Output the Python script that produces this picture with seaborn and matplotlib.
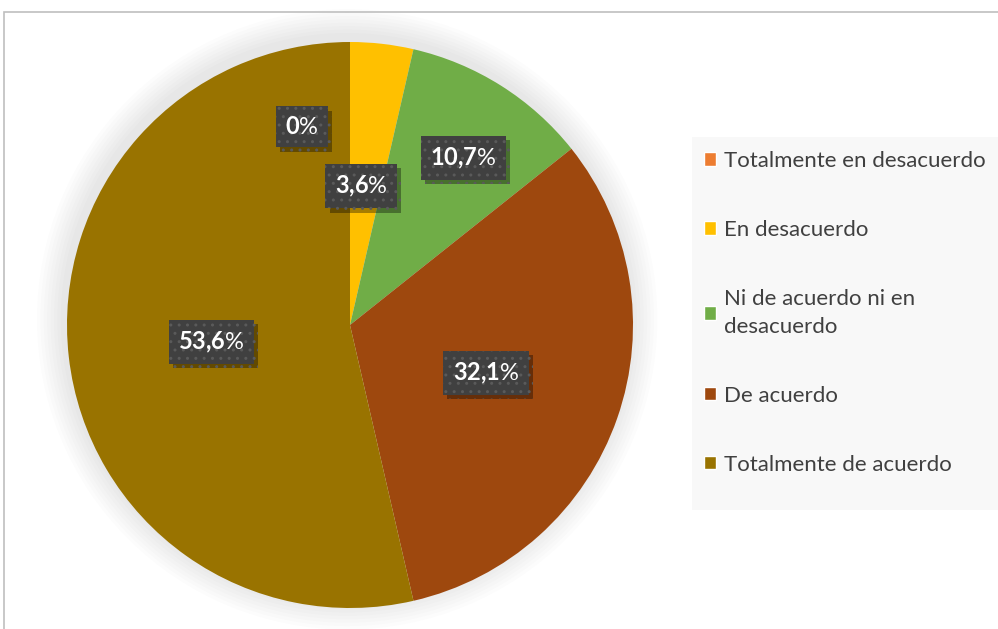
import numpy as np
import matplotlib
matplotlib.use("Agg")
import matplotlib.pyplot as plt
import matplotlib.patheffects as pe
from matplotlib.patches import Rectangle, Circle
import seaborn as sns

categories = ["Totalmente en desacuerdo", "En desacuerdo",
              "Ni de acuerdo ni en\ndesacuerdo", "De acuerdo",
              "Totalmente de acuerdo"]
values = [0.0, 3.6, 10.7, 32.1, 53.6]
colors = ["#ED7D31", "#FFC000", "#70AD47", "#9E480E", "#997300"]

# label placement inside the pie (radius = 1)
label_pos = [(-0.17, 0.70), (0.04, 0.49), (0.40, 0.59), (0.48, -0.17), (-0.49, -0.06)]

sns.set_style("white")
plt.rcParams["font.family"] = ["Lato", "DejaVu Sans"]
plt.rcParams["mathtext.fontset"] = "custom"
plt.rcParams["mathtext.rm"] = "Lato"
plt.rcParams["mathtext.bf"] = "Lato:bold"

fig = plt.figure(figsize=(9.98, 6.29), dpi=100)
W, H = 998, 629

# chart border
fig.patches.append(Rectangle((4 / W, -0.01), 1.0, 1 - 12 / H + 0.01,
                             transform=fig.transFigure, fill=False,
                             edgecolor="#BFBFBF", linewidth=1.2))
# legend background
fig.patches.append(Rectangle((692 / W, 1 - 510 / H), 1.0, (510 - 137) / H,
                             transform=fig.transFigure, facecolor="#F8F8F8",
                             edgecolor="none"))

cx, cy, r = 350, 304, 283
ax = fig.add_axes([(cx - r) / W, (cy - r) / H, 2 * r / W, 2 * r / H])

# soft shadow around the pie
for k in range(8):
    ax.add_patch(Circle((-0.01, 0.02), 1.0 + 0.012 * (k + 1), facecolor="#808080",
                        alpha=0.025, edgecolor="none", clip_on=False, zorder=0))

wedges, _ = ax.pie(values, colors=colors, startangle=90, counterclock=False,
                   radius=1, wedgeprops=dict(linewidth=0))
ax.set_xlim(-1, 1)
ax.set_ylim(-1, 1)
ax.set_aspect("equal")
ax.axis("off")

for v, (x, y) in zip(values, label_pos):
    num = f"{v:.1f}".replace(".", "{,}") if v != 0 else "0"
    t = ax.text(x, y, r"$\mathbf{" + num + "}$%", ha="center", va="center",
                color="white", fontsize=17,
                bbox=dict(boxstyle="square,pad=0.4", facecolor="#404040",
                          edgecolor="#5A5A5A", hatch="..", linewidth=0))
    t.get_bbox_patch().set_path_effects([
        pe.SimplePatchShadow(offset=(3, -3), shadow_rgbFace="black", alpha=0.35),
        pe.Normal()])

handles = [Rectangle((0, 0), 1, 1, facecolor=c) for c in colors]
leg = fig.legend(handles, categories, loc="upper left",
                 bbox_to_anchor=(704 / W, 1 - 151 / H),
                 frameon=False, fontsize=16, labelspacing=2.2,
                 handlelength=0.55, handleheight=0.55, handletextpad=0.35,
                 borderpad=0, borderaxespad=0)
for txt in leg.get_texts():
    txt.set_color("#404040")
    txt.set_linespacing(1.5)

fig.savefig("out.png", dpi=100)
